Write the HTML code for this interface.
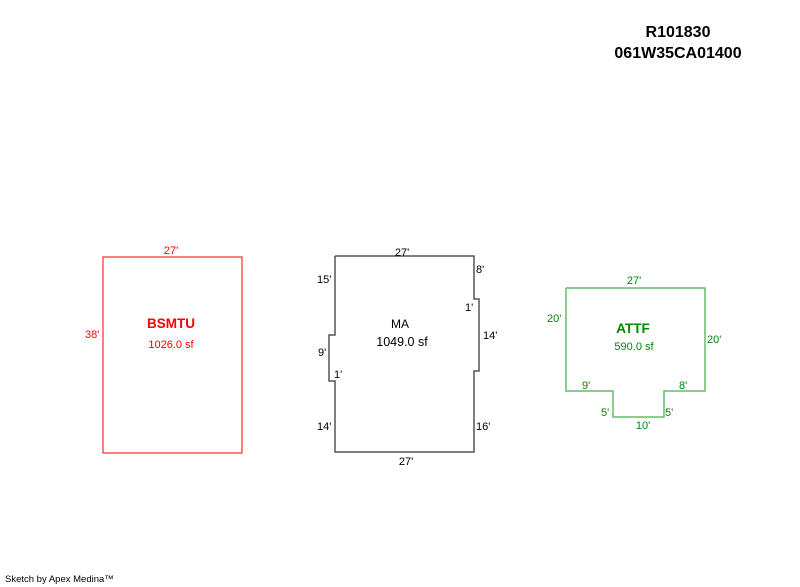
<!DOCTYPE html>
<html><head><style>
body{margin:0;background:#fff;width:800px;height:587px;overflow:hidden;font-family:"Liberation Sans",sans-serif}
svg{position:absolute;left:0;top:0}
</style></head><body>
<svg width="800" height="587" font-family="Liberation Sans, sans-serif" font-size="11">
<text x="678" y="37" font-size="16" font-weight="bold" text-anchor="middle">R101830</text>
<text x="678" y="58" font-size="16" font-weight="bold" text-anchor="middle">061W35CA01400</text>

<rect x="103" y="257" width="139" height="196" fill="none" stroke="#f00" stroke-width="1"/>
<g fill="#f00">
<text x="171" y="254" text-anchor="middle">27'</text>
<text x="85" y="338">38'</text>
<text x="171" y="328" font-size="13.5" font-weight="bold" text-anchor="middle">BSMTU</text>
<text x="171" y="348" text-anchor="middle">1026.0 sf</text>
</g>

<polyline points="335,256 474,256 474,299 479,299 479,371 474,371 474,452 335,452 335,381 329,381 329,335 335,335 335,256" fill="none" stroke="#555" stroke-width="1.5"/>
<g fill="#000">
<text x="402" y="256" text-anchor="middle">27'</text>
<text x="476" y="273">8'</text>
<text x="317" y="283">15'</text>
<text x="465" y="311">1'</text>
<text x="483" y="339">14'</text>
<text x="400" y="328" font-size="12" text-anchor="middle">MA</text>
<text x="402" y="346" font-size="12.5" text-anchor="middle">1049.0 sf</text>
<text x="318" y="356">9'</text>
<text x="334" y="378">1'</text>
<text x="317" y="430">14'</text>
<text x="476" y="430">16'</text>
<text x="406" y="465" text-anchor="middle">27'</text>
</g>

<polyline points="566,288 705,288 705,391 664,391 664,417 613,417 613,391 566,391 566,288" fill="none" stroke="#6b6" stroke-width="1.5"/>
<g fill="#080">
<text x="634" y="284" text-anchor="middle">27'</text>
<text x="547" y="322">20'</text>
<text x="707" y="343">20'</text>
<text x="633" y="333" font-size="13.5" font-weight="bold" text-anchor="middle">ATTF</text>
<text x="634" y="350" text-anchor="middle">590.0 sf</text>
<text x="582" y="389">9'</text>
<text x="679" y="389">8'</text>
<text x="601" y="416">5'</text>
<text x="665" y="416">5'</text>
<text x="643" y="429" text-anchor="middle">10'</text>
</g>

<text x="5" y="582" font-size="9.5">Sketch by Apex Medina™</text>
</svg>
</body></html>
